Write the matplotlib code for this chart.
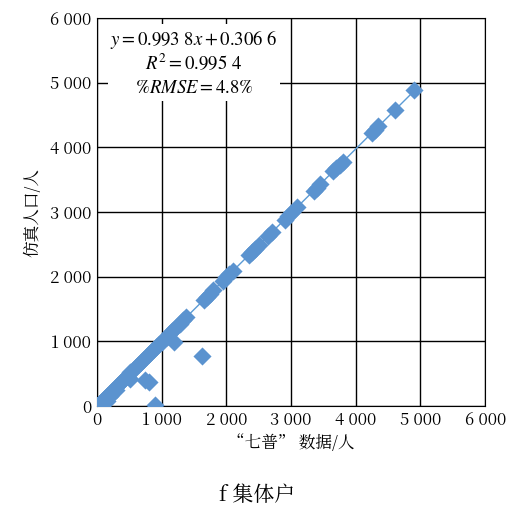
import matplotlib.pyplot as plt
from matplotlib.ticker import FuncFormatter

plt.rcParams['font.family'] = ['Noto Serif CJK SC', 'Noto Sans CJK SC', 'DejaVu Serif']

census = [0, 30, 60, 90, 120, 160, 200, 240, 280, 320, 360, 400, 440, 480, 520, 560,
          600, 640, 680, 720, 760, 800, 840, 880, 920, 960, 1000, 1040, 1080, 1120,
          1160, 1200, 1240, 1280, 1330, 1380, 1650, 1700, 1750, 1800, 1950, 2000,
          2050, 2100, 2350, 2400, 2450, 2500, 2650, 2700, 2900, 2950, 3000, 3100,
          3350, 3400, 3450, 3650, 3700, 3750, 3800, 4250, 4300, 4350, 4600, 4900,
          900, 750, 800, 1200, 1620, 520, 150, 60, 100, 200, 300]
simulated = [0, 30, 60, 90, 120, 160, 200, 240, 280, 320, 360, 400, 440, 480, 520, 560,
             600, 640, 680, 720, 760, 800, 840, 880, 915, 955, 995, 1035, 1075, 1115,
             1155, 1195, 1235, 1275, 1325, 1370, 1640, 1690, 1740, 1790, 1940, 1990,
             2040, 2090, 2335, 2385, 2435, 2485, 2635, 2685, 2885, 2935, 2985, 3080,
             3330, 3380, 3430, 3630, 3680, 3730, 3780, 4225, 4275, 4325, 4580, 4880,
             10, 400, 380, 990, 770, 420, 80, 20, 50, 150, 250]
fit_x = [0, 4900]
fit_y = [0.3066, 0.9938 * 4900 + 0.3066]
ticks = [0, 1000, 2000, 3000, 4000, 5000, 6000]

fig = plt.figure(figsize=(5.15, 5.16), dpi=100)
ax = fig.add_axes([0.188, 0.213, 0.754, 0.752])
ax.plot(fit_x, fit_y, color='#5b9bd5', lw=1.0, zorder=2)
ax.scatter(census, simulated, marker='D', s=85, color='#5b93cf', linewidths=0, zorder=3)

ax.set_xlim(0, 6000)
ax.set_ylim(0, 6000)
ax.set_xticks(ticks)
ax.set_yticks(ticks)
fmt = FuncFormatter(lambda v, p: f"{int(v):,}".replace(",", " "))
ax.xaxis.set_major_formatter(fmt)
ax.yaxis.set_major_formatter(fmt)
ax.grid(True, color='black', lw=1.0)
ax.set_axisbelow(True)
for s in ax.spines.values():
    s.set_color('black')
ax.tick_params(length=0, labelsize=12, pad=4)
ax.set_xlabel('“七普” 数据/人', fontsize=12, labelpad=4)
ax.set_ylabel('仿真人口/人', fontsize=12, labelpad=6)

ax.text(0.25, 0.975,
        '$y=0.993\\ 8x+0.306\\ 6$\n$R^2=0.995\\ 4$\n$\\%RMSE=4.8\\%$',
        transform=ax.transAxes, ha='center', va='top', fontsize=13.5, linespacing=1.2,
        bbox=dict(facecolor='white', edgecolor='none', pad=2), zorder=4,
        math_fontfamily='stix')

fig.text(0.5, 0.03, 'f 集体户', ha='center', fontsize=15)
fig.savefig('out.png')
